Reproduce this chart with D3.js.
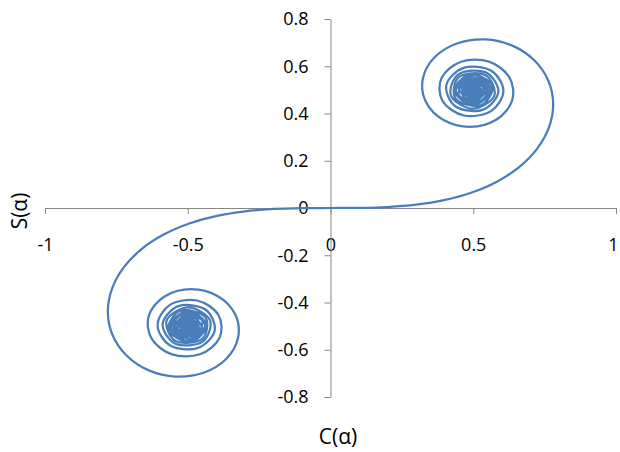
<!DOCTYPE html>
<html>
<head>
<meta charset="utf-8">
<script src="https://cdn.jsdelivr.net/npm/d3@7"></script>
<style>
  html, body { margin: 0; padding: 0; background: #fff; }
  svg { display: block; }
  text { font-family: "Open Sans", "Liberation Sans", sans-serif; fill: #000; }
</style>
</head>
<body>
<svg id="chart" width="620" height="452"></svg>
<script>
// Fresnel integrals read for alpha = 0, 0.1, ..., 10 (positive branch)
const C_pos = [0,0.1000,0.1999,0.2994,0.3975,0.4923,0.5811,0.6597,0.7228,0.7648,
  0.7799,0.7638,0.7154,0.6386,0.5431,0.4453,0.3655,0.3238,0.3336,0.3945,
  0.4883,0.5816,0.6363,0.6266,0.5550,0.4574,0.3889,0.3925,0.4675,0.5624,
  0.6057,0.5616,0.4663,0.4057,0.4385,0.5326,0.5880,0.5420,0.4481,0.4223,
  0.4984,0.5737,0.5417,0.4494,0.4383,0.5260,0.5672,0.4914,0.4338,0.5002,
  0.5636,0.4998,0.4389,0.5078,0.5573,0.4784,0.4517,0.5385,0.5299,0.4486,
  0.4995,0.5495,0.4676,0.4760,0.5496,0.4816,0.4690,0.5467,0.4831,0.4732,
  0.5455,0.4733,0.4888,0.5393,0.4601,0.5160,0.5156,0.4628,0.5395,0.4760,
  0.4998,0.5228,0.4638,0.5378,0.4709,0.5142,0.5025,0.4827,0.5280,0.4661,
  0.5354,0.4666,0.5291,0.4763,0.5180,0.4873,0.5081,0.4955,0.5019,0.4996,
  0.4999];
const S_pos = [0,0.0005,0.0042,0.0141,0.0334,0.0647,0.1105,0.1721,0.2493,0.3398,
  0.4383,0.5365,0.6234,0.6863,0.7135,0.6975,0.6389,0.5492,0.4509,0.3733,
  0.3434,0.3743,0.4557,0.5532,0.6197,0.6192,0.5500,0.4529,0.3915,0.4101,
  0.4963,0.5818,0.5934,0.5193,0.4297,0.4153,0.4923,0.5750,0.5656,0.4752,
  0.4205,0.4758,0.5632,0.5540,0.4623,0.4343,0.5162,0.5672,0.4968,0.4351,
  0.4992,0.5624,0.4969,0.4404,0.5140,0.5537,0.4700,0.4595,0.5461,0.5163,
  0.4470,0.5165,0.5398,0.4555,0.4965,0.5454,0.4631,0.4915,0.5436,0.4624,
  0.4997,0.5360,0.4573,0.5190,0.5161,0.4607,0.5389,0.4820,0.4896,0.5323,
  0.4602,0.5320,0.4859,0.4932,0.5243,0.4653,0.5369,0.4677,0.5230,0.4886,
  0.4999,0.5104,0.4814,0.5247,0.4713,0.5310,0.4679,0.5325,0.4676,0.5322,
  0.4682];
// negative branch: alpha = 0, -0.1, ..., -10
const C_neg = [0,-0.1000,-0.1999,-0.2994,-0.3975,-0.4923,-0.5811,-0.6597,-0.7228,-0.7648,
  -0.7799,-0.7638,-0.7154,-0.6386,-0.5431,-0.4453,-0.3655,-0.3238,-0.3336,-0.3945,
  -0.4883,-0.5816,-0.6363,-0.6266,-0.5550,-0.4574,-0.3889,-0.3925,-0.4675,-0.5624,
  -0.6057,-0.5616,-0.4663,-0.4057,-0.4385,-0.5326,-0.5880,-0.5420,-0.4481,-0.4223,
  -0.4984,-0.5737,-0.5417,-0.4494,-0.4383,-0.5260,-0.5672,-0.4914,-0.4338,-0.5002,
  -0.5636,-0.4998,-0.4389,-0.5078,-0.5573,-0.4784,-0.4517,-0.5385,-0.5299,-0.4486,
  -0.4995,-0.5495,-0.4676,-0.4760,-0.5496,-0.4816,-0.4690,-0.5467,-0.4831,-0.4732,
  -0.5455,-0.4733,-0.4888,-0.5393,-0.4601,-0.5160,-0.5156,-0.4628,-0.5395,-0.4760,
  -0.4998,-0.5228,-0.4638,-0.5378,-0.4709,-0.5142,-0.5025,-0.4827,-0.5280,-0.4661,
  -0.5354,-0.4666,-0.5291,-0.4763,-0.5180,-0.4873,-0.5081,-0.4955,-0.5019,-0.4996,
  -0.4999];
const S_neg = [0,-0.0005,-0.0042,-0.0141,-0.0334,-0.0647,-0.1105,-0.1721,-0.2493,-0.3398,
  -0.4383,-0.5365,-0.6234,-0.6863,-0.7135,-0.6975,-0.6389,-0.5492,-0.4509,-0.3733,
  -0.3434,-0.3743,-0.4557,-0.5532,-0.6197,-0.6192,-0.5500,-0.4529,-0.3915,-0.4101,
  -0.4963,-0.5818,-0.5934,-0.5193,-0.4297,-0.4153,-0.4923,-0.5750,-0.5656,-0.4752,
  -0.4205,-0.4758,-0.5632,-0.5540,-0.4623,-0.4343,-0.5162,-0.5672,-0.4968,-0.4351,
  -0.4992,-0.5624,-0.4969,-0.4404,-0.5140,-0.5537,-0.4700,-0.4595,-0.5461,-0.5163,
  -0.4470,-0.5165,-0.5398,-0.4555,-0.4965,-0.5454,-0.4631,-0.4915,-0.5436,-0.4624,
  -0.4997,-0.5360,-0.4573,-0.5190,-0.5161,-0.4607,-0.5389,-0.4820,-0.4896,-0.5323,
  -0.4602,-0.5320,-0.4859,-0.4932,-0.5243,-0.4653,-0.5369,-0.4677,-0.5230,-0.4886,
  -0.4999,-0.5104,-0.4814,-0.5247,-0.4713,-0.5310,-0.4679,-0.5325,-0.4676,-0.5322,
  -0.4682];

const xTickValues = [-1, -0.5, 0, 0.5, 1];
const xTickLabels = ["-1", "-0.5", "0", "0.5", "1"];
const yTickValues = [-0.8, -0.6, -0.4, -0.2, 0, 0.2, 0.4, 0.6, 0.8];
const yTickLabels = ["-0.8", "-0.6", "-0.4", "-0.2", "0", "0.2", "0.4", "0.6", "0.8"];
const xTitle = "C(\u03B1)";
const yTitle = "S(\u03B1)";

const svg = d3.select("#chart");
const x = d3.scaleLinear().domain([-1, 1]).range([45, 616]);
const y = d3.scaleLinear().domain([-0.8, 0.8]).range([397, 19]);
const axisColor = "#868686";

// x axis
const xAxis = d3.axisBottom(x)
  .tickValues(xTickValues)
  .tickFormat((d, i) => xTickLabels[i])
  .tickSizeInner(6).tickSizeOuter(0).tickPadding(24);
const gx = svg.append("g").attr("transform", `translate(0,${y(0)})`).call(xAxis);

// y axis
const yAxis = d3.axisLeft(y)
  .tickValues(yTickValues)
  .tickFormat((d, i) => yTickLabels[i])
  .tickSizeInner(6).tickSizeOuter(0).tickPadding(16);
const gy = svg.append("g").attr("transform", `translate(${x(0)},0)`).call(yAxis);

[gx, gy].forEach(g => {
  g.select(".domain").attr("stroke", axisColor).attr("stroke-width", 1);
  g.selectAll(".tick line").attr("stroke", axisColor).attr("stroke-width", 1);
  g.selectAll(".tick text").attr("fill", "#000")
    .style("font-family", '"Open Sans", "Liberation Sans", sans-serif')
    .style("font-size", "18px");
});
// keep the last x label inside the picture
gx.selectAll(".tick text").filter((d, i) => i === xTickValues.length - 1).attr("dx", -3);

// series (negative branch reversed, then positive branch)
const pts = [];
for (let i = C_neg.length - 1; i >= 1; i--) pts.push([C_neg[i], S_neg[i]]);
for (let i = 0; i < C_pos.length; i++) pts.push([C_pos[i], S_pos[i]]);

const line = d3.line()
  .x(d => x(d[0]))
  .y(d => y(d[1]))
  .curve(d3.curveCardinal.tension(0));

svg.append("path")
  .datum(pts)
  .attr("fill", "none")
  .attr("stroke", "#4A7EBB")
  .attr("stroke-width", 2.25)
  .attr("stroke-linejoin", "round")
  .attr("d", line);

// axis titles
svg.append("text")
  .attr("x", 338).attr("y", 436)
  .attr("text-anchor", "middle").attr("dominant-baseline", "central")
  .style("font-size", "21px")
  .text(xTitle);

svg.append("text")
  .attr("transform", "translate(19,211) rotate(-90)")
  .attr("text-anchor", "middle").attr("dominant-baseline", "central")
  .style("font-size", "21px")
  .text(yTitle);
</script>
</body>
</html>
